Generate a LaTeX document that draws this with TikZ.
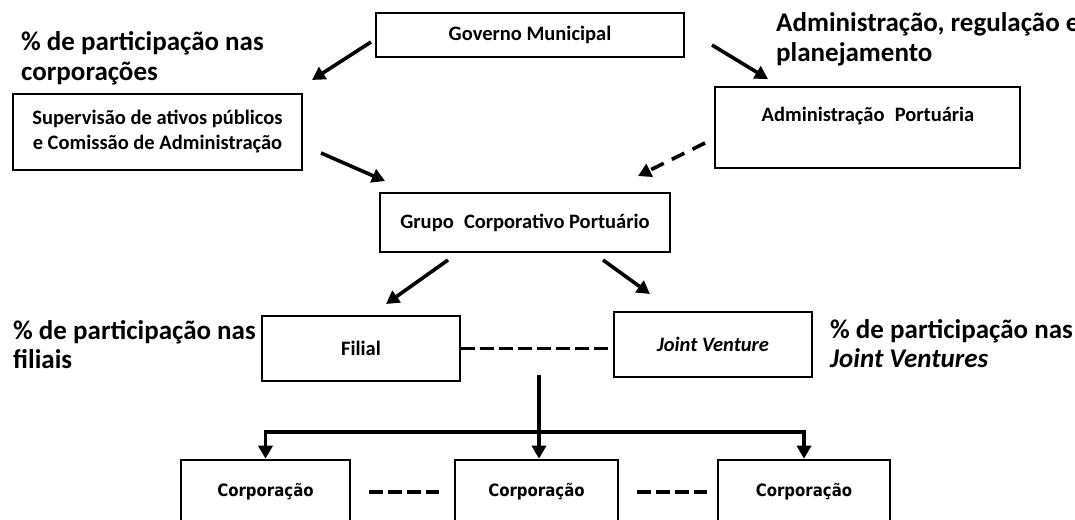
\documentclass[tikz,border=0pt]{standalone}
\usepackage{fontspec}
\setmainfont{Carlito}
\newfontfamily\corpfont{DejaVu Sans}[FakeStretch=0.88]
\usetikzlibrary{arrows.meta}
\begin{document}
\begin{tikzpicture}[x=1pt,y=-1pt,
  box/.style={draw, line width=2.6pt, inner sep=0pt, align=center,
    font=\fontsize{20.5}{25}\selectfont\bfseries},
  boxtext/.style={inner sep=0pt, font=\fontsize{20.5}{25}\selectfont\bfseries},
  corp/.style={draw, line width=2.6pt, inner sep=0pt,
    font=\corpfont\fontsize{17}{20}\selectfont\bfseries},
  note/.style={anchor=base west, inner sep=0pt,
    font=\fontsize{27}{32}\selectfont\bfseries},
  arr/.style={line width=3.6pt, -{Triangle[length=13pt,width=14pt]}},
  darr/.style={line width=3.6pt, dash pattern=on 14pt off 9pt,
    -{Triangle[length=13pt,width=14pt]}},
  dline/.style={line width=3.6pt, dash pattern=on 14pt off 5pt},
]
\clip (0,0) rectangle (1075,519);
\fill[white] (0,0) rectangle (1075,519);

% boxes
\node[box, minimum width=308pt, minimum height=44pt] (gov) at (530,35) {Governo Municipal};
\node[box, minimum width=289pt, minimum height=76pt] (sup) at (157.5,132)
  {Supervisão de ativos públicos\\e Comissão de Administração};
\node[box, minimum width=305pt, minimum height=81pt] (adm) at (867.5,127.5) {};
\node[boxtext] (admtxt) at (868,116) {Administração\hspace{0.5em}Portuária};
\node[box, minimum width=290pt, minimum height=59pt] (grp) at (525,222.5)
  {Grupo\hspace{0.5em}Corporativo Portuário};
\node[box, minimum width=198pt, minimum height=65pt] (fil) at (361,348.5) {Filial};
\node[box, minimum width=198pt, minimum height=65pt] (jv) at (713,344.5) {\textit{Joint Venture}};
\node[corp, minimum width=169pt, minimum height=64pt] (c1) at (265.5,492) {Corporação};
\node[corp, minimum width=163pt, minimum height=64pt] (c2) at (536.5,492) {Corporação};
\node[corp, minimum width=172pt, minimum height=64pt] (c3) at (804,492) {Corporação};

% side notes
\node[note] (n1a) at (21,51) {\% de participação nas};
\node[note] (n1b) at (21,80) {corporações};
\node[note] (n2a) at (776,32) {Administração, regulação e};
\node[note] (n2b) at (776,62) {planejamento};
\node[note] (n3a) at (13,339) {\% de participação nas};
\node[note] (n3b) at (13,368) {filiais};
\node[note] (n4a) at (830,338) {\% de participação nas};
\node[note] (n4b) at (830,367) {\textit{Joint Ventures}};

% free arrow ends
\coordinate (g1) at (371,42);  \coordinate (s1) at (312,80);
\coordinate (g2) at (712,45);  \coordinate (a1) at (768,79);
\coordinate (s2) at (321,153); \coordinate (p1) at (385,181);
\coordinate (a2) at (705,143); \coordinate (p2) at (638,176);
\coordinate (p3) at (448,260); \coordinate (f1) at (386,304);
\coordinate (p4) at (603,260); \coordinate (j1) at (650,294);
\coordinate (hub) at (539,375);
\coordinate (bar) at (539,432);

% connectors
\draw[arr] (g1) -- (s1);
\draw[arr] (g2) -- (a1);
\draw[arr] (s2) -- (p1);
\draw[darr] (a2) -- (p2);
\draw[arr] (p3) -- (f1);
\draw[arr] (p4) -- (j1);
\draw[dline] (fil.east) -- (fil.east -| jv.west);
\draw[arr] (hub) -- (hub |- c2.north);
\draw[arr] (bar) -| (c1.north);
\draw[arr] (bar) -| (c3.north);
\draw[dline, shorten <=18pt, shorten >=15pt] (c1.east) -- (c2.west);
\draw[dline, shorten <=18pt, shorten >=10pt] (c2.east) -- (c3.west);
\end{tikzpicture}
\end{document}
